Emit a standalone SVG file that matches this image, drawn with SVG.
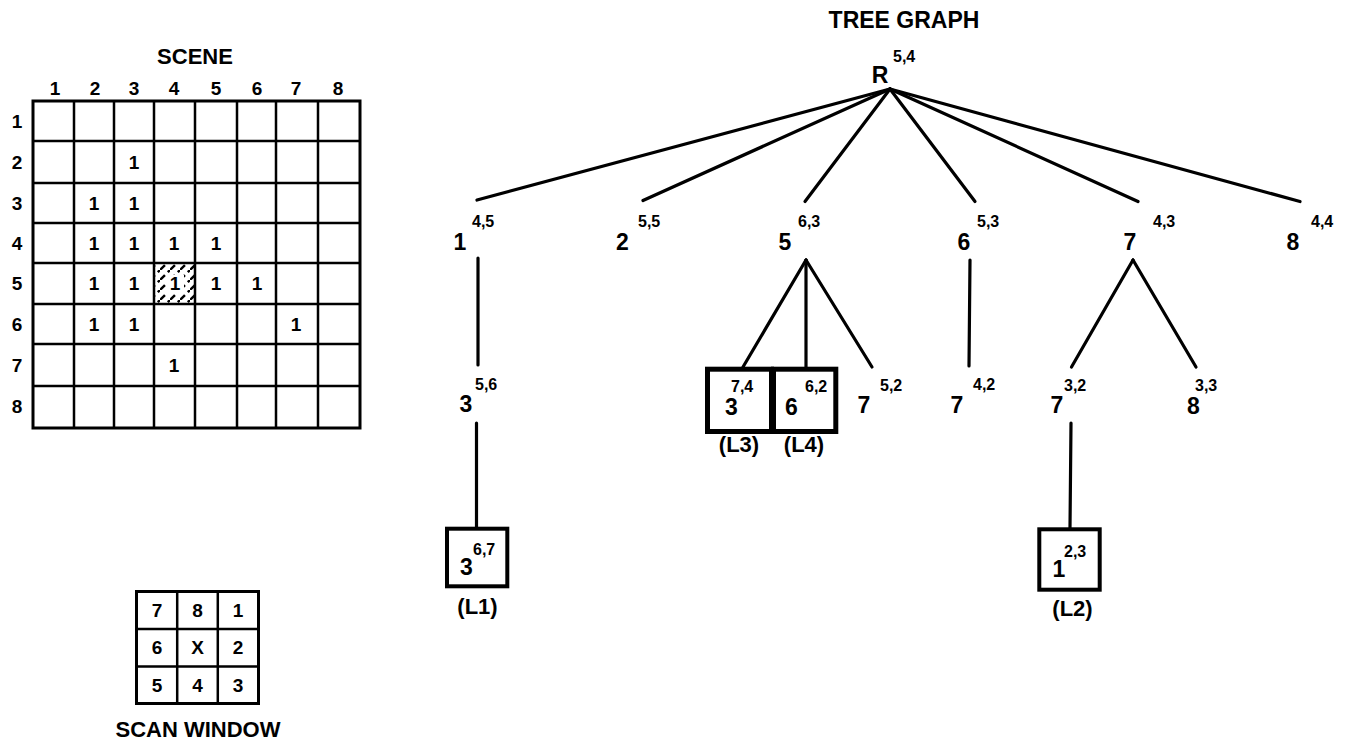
<svg xmlns="http://www.w3.org/2000/svg" width="1355" height="748" viewBox="0 0 1355 748">
  <style>
    text { font-family: "Liberation Sans", Arial, Helvetica, sans-serif; font-weight: bold; fill: #000; }
    .title { font-size: 22px; text-anchor: middle; }
    .cell { font-size: 19px; text-anchor: middle; }
    .lbl { font-size: 23px; text-anchor: middle; }
    .sup { font-size: 16px; }
    .tag { font-size: 22px; text-anchor: middle; }
    .grid { fill: none; stroke: #000; stroke-width: 2.5; }
    .edge { stroke: #000; stroke-width: 3.2; stroke-linecap: round; fill: none; }
    .leaf { fill: #fff; stroke: #000; stroke-width: 4; }
    .leafw { fill: #fff; stroke: #000; stroke-width: 5; }
  </style>
  <defs>
    <pattern id="hatch" patternUnits="userSpaceOnUse" width="10" height="10">
      <line x1="0" y1="10" x2="10" y2="0" stroke="#000" stroke-width="2.4" stroke-dasharray="7 4"/>
    </pattern>
  </defs>
  <rect width="1355" height="748" fill="#fff"/>

  <!-- SCENE: 8x8 binary image -->
  <g id="scene">
    <text class="title" x="195" y="64">SCENE</text>
    <g class="cell">
      <text x="55" y="95">1</text><text x="95" y="95">2</text><text x="134" y="95">3</text><text x="174" y="95">4</text>
      <text x="216" y="95">5</text><text x="257" y="95">6</text><text x="296" y="95">7</text><text x="338" y="95">8</text>
      <text x="17" y="128">1</text><text x="17" y="169">2</text><text x="17" y="210">3</text><text x="17" y="250">4</text>
      <text x="17" y="290">5</text><text x="17" y="331">6</text><text x="17" y="372">7</text><text x="17" y="413">8</text>
    </g>
    <!-- marked start pixel (row 5, col 4) -->
    <rect x="154" y="263" width="41" height="41" fill="url(#hatch)"/>
    <rect x="166" y="275" width="18" height="18" fill="#fff"/>
    <g class="grid">
      <rect x="33" y="101" width="327" height="327" stroke-width="3"/>
      <path d="M74 101V428M114 101V428M154 101V428M195 101V428M237 101V428M276 101V428M318 101V428"/>
      <path d="M33 141H360M33 183H360M33 223H360M33 263H360M33 304H360M33 344H360M33 386H360"/>
    </g>
    <g class="cell">
      <text x="134" y="169">1</text>
      <text x="94" y="210">1</text><text x="134" y="210">1</text>
      <text x="94" y="250">1</text><text x="134" y="250">1</text><text x="174" y="250">1</text><text x="216" y="250">1</text>
      <text x="94" y="290">1</text><text x="134" y="290">1</text><text x="175" y="290">1</text><text x="216" y="290">1</text><text x="257" y="290">1</text>
      <text x="94" y="331">1</text><text x="134" y="331">1</text><text x="296" y="331">1</text>
      <text x="174" y="372">1</text>
    </g>
  </g>

  <!-- SCAN WINDOW: 3x3 neighbour numbering -->
  <g id="scan-window">
    <g class="grid">
      <rect x="136.5" y="591.5" width="122" height="112" stroke-width="3"/>
      <path d="M177.2 591.5V703.5M217.8 591.5V703.5M136.5 629H258.5M136.5 666.5H258.5"/>
    </g>
    <g class="cell">
      <text x="157" y="617">7</text><text x="197.5" y="617">8</text><text x="238" y="617">1</text>
      <text x="157" y="654">6</text><text x="197.5" y="654">X</text><text x="238" y="654">2</text>
      <text x="157" y="692">5</text><text x="197.5" y="692">4</text><text x="238" y="692">3</text>
    </g>
    <text class="title" x="198" y="737">SCAN WINDOW</text>
  </g>

  <text id="tree-title" class="title" x="904" y="28" style="font-size:23px">TREE GRAPH</text>

  <!-- tree connectors -->
  <g id="connectors" class="edge">
    <line x1="890" y1="89" x2="477" y2="200"/>
    <line x1="890" y1="89" x2="643" y2="200.5"/>
    <line x1="890" y1="89" x2="805" y2="201.5"/>
    <line x1="890" y1="89" x2="975" y2="201.5"/>
    <line x1="890" y1="89" x2="1138" y2="201.5"/>
    <line x1="890" y1="89" x2="1300" y2="201.5"/>
    <line x1="478" y1="258" x2="478" y2="365"/>
    <line x1="476.5" y1="423" x2="476.5" y2="527"/>
    <line x1="806" y1="260" x2="743" y2="367"/>
    <line x1="806" y1="260" x2="806" y2="367"/>
    <line x1="806" y1="260" x2="872" y2="367"/>
    <line x1="970" y1="260" x2="969" y2="366"/>
    <line x1="1133" y1="260" x2="1071.5" y2="367"/>
    <line x1="1133" y1="260" x2="1196" y2="367"/>
    <line x1="1071" y1="423" x2="1070" y2="528"/>
  </g>

  <!-- tree nodes: direction code with (row,col) superscript -->
  <g id="node-root"><text class="lbl" x="880" y="83">R</text><text class="sup" x="893" y="62">5,4</text></g>
  <g id="node-1"><text class="lbl" x="460" y="249.5">1</text><text class="sup" x="472" y="226.5">4,5</text></g>
  <g id="node-2"><text class="lbl" x="622.5" y="249.5">2</text><text class="sup" x="638" y="226.5">5,5</text></g>
  <g id="node-5"><text class="lbl" x="785" y="249.5">5</text><text class="sup" x="798" y="226.5">6,3</text></g>
  <g id="node-6"><text class="lbl" x="964" y="249.5">6</text><text class="sup" x="977" y="227">5,3</text></g>
  <g id="node-7"><text class="lbl" x="1130" y="249.5">7</text><text class="sup" x="1153" y="227">4,3</text></g>
  <g id="node-8"><text class="lbl" x="1293" y="249.5">8</text><text class="sup" x="1311" y="227">4,4</text></g>

  <g id="node-1-3"><text class="lbl" x="466" y="412">3</text><text class="sup" x="475" y="390">5,6</text></g>
  <g id="node-5-7"><text class="lbl" x="864" y="413">7</text><text class="sup" x="880" y="391">5,2</text></g>
  <g id="node-6-7"><text class="lbl" x="957" y="413">7</text><text class="sup" x="973" y="390">4,2</text></g>
  <g id="node-7-7"><text class="lbl" x="1057" y="413">7</text><text class="sup" x="1064" y="391">3,2</text></g>
  <g id="node-7-8"><text class="lbl" x="1193.5" y="414">8</text><text class="sup" x="1195" y="391">3,3</text></g>

  <!-- leaf nodes -->
  <g id="leaf-L1">
    <rect class="leaf" x="447" y="528.7" width="60.3" height="57.6"/>
    <text class="lbl" x="466.5" y="575">3</text><text class="sup" x="473" y="555">6,7</text>
    <text class="tag" x="477.5" y="613.5">(L1)</text>
  </g>
  <g id="leaf-L2">
    <rect class="leaf" x="1039.3" y="529.3" width="60.4" height="60.4"/>
    <text class="lbl" x="1059" y="577">1</text><text class="sup" x="1064" y="557">2,3</text>
    <text class="tag" x="1072.5" y="615.5">(L2)</text>
  </g>
  <g id="leaf-L3">
    <rect class="leafw" x="707.5" y="369.2" width="64" height="62.3"/>
    <text class="lbl" x="731.5" y="415">3</text><text class="sup" x="731" y="392">7,4</text>
    <text class="tag" x="739" y="452">(L3)</text>
  </g>
  <g id="leaf-L4">
    <rect class="leafw" x="773.5" y="369.2" width="62.3" height="62.3"/>
    <text class="lbl" x="791.5" y="415">6</text><text class="sup" x="805" y="392">6,2</text>
    <text class="tag" x="804" y="452">(L4)</text>
  </g>
</svg>
